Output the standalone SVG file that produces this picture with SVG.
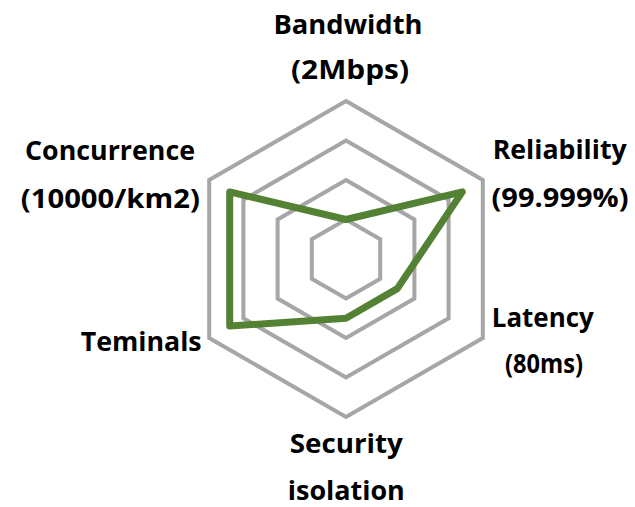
<svg xmlns="http://www.w3.org/2000/svg" width="635" height="507" viewBox="0 0 635 507">
<style>
.grid{fill:none;stroke:#A6A6A6;stroke-width:4;stroke-linejoin:miter}
.series{fill:none;stroke:#548235;stroke-width:7;stroke-linejoin:round}
.lbl{font-family:"Open Sans","Noto Sans","Liberation Sans",sans-serif;font-weight:bold;font-size:27px;fill:#000;text-anchor:middle}
</style>
<rect width="635" height="507" fill="#FFFFFF"/>
<g id="grid">
<polygon class="grid" points="346,101 482.8,180 482.8,338 346,417 209.2,338 209.2,180"/>
<polygon class="grid" points="346,140.5 448.6,199.75 448.6,318.25 346,377.5 243.4,318.25 243.4,199.75"/>
<polygon class="grid" points="346,180 414.4,219.5 414.4,298.5 346,338 277.6,298.5 277.6,219.5"/>
<polygon class="grid" points="346,219.5 380.2,239.25 380.2,278.75 346,298.5 311.8,278.75 311.8,239.25"/>
</g>
<g id="series">
<polygon class="series" points="346,219.5 462.3,191.9 397.3,288.6 346,318.3 229.7,326.1 229.7,191.9"/>
</g>
<g id="label-bandwidth">
<text class="lbl" x="348" y="33.5" textLength="149" lengthAdjust="spacingAndGlyphs">Bandwidth</text>
<text class="lbl" x="350" y="79" textLength="118" lengthAdjust="spacingAndGlyphs">(2Mbps)</text>
</g>
<g id="label-reliability">
<text class="lbl" x="559.7" y="158.5" textLength="134" lengthAdjust="spacingAndGlyphs">Reliability</text>
<text class="lbl" x="560" y="207" textLength="137" lengthAdjust="spacingAndGlyphs">(99.999%)</text>
</g>
<g id="label-latency">
<text class="lbl" x="542.8" y="326.5" textLength="102" lengthAdjust="spacingAndGlyphs">Latency</text>
<text class="lbl" x="544" y="373.3" textLength="78" lengthAdjust="spacingAndGlyphs">(80ms)</text>
</g>
<g id="label-security">
<text class="lbl" x="346.3" y="453.3" textLength="113" lengthAdjust="spacingAndGlyphs">Security</text>
<text class="lbl" x="346.3" y="499.5" textLength="117" lengthAdjust="spacingAndGlyphs">isolation</text>
</g>
<g id="label-terminals">
<text class="lbl" x="141.2" y="350.7" textLength="121" lengthAdjust="spacingAndGlyphs">Teminals</text>
</g>
<g id="label-concurrence">
<text class="lbl" x="110" y="160" textLength="170" lengthAdjust="spacingAndGlyphs">Concurrence</text>
<text class="lbl" x="110.3" y="208" textLength="179" lengthAdjust="spacingAndGlyphs">(10000/km2)</text>
</g>
</svg>
